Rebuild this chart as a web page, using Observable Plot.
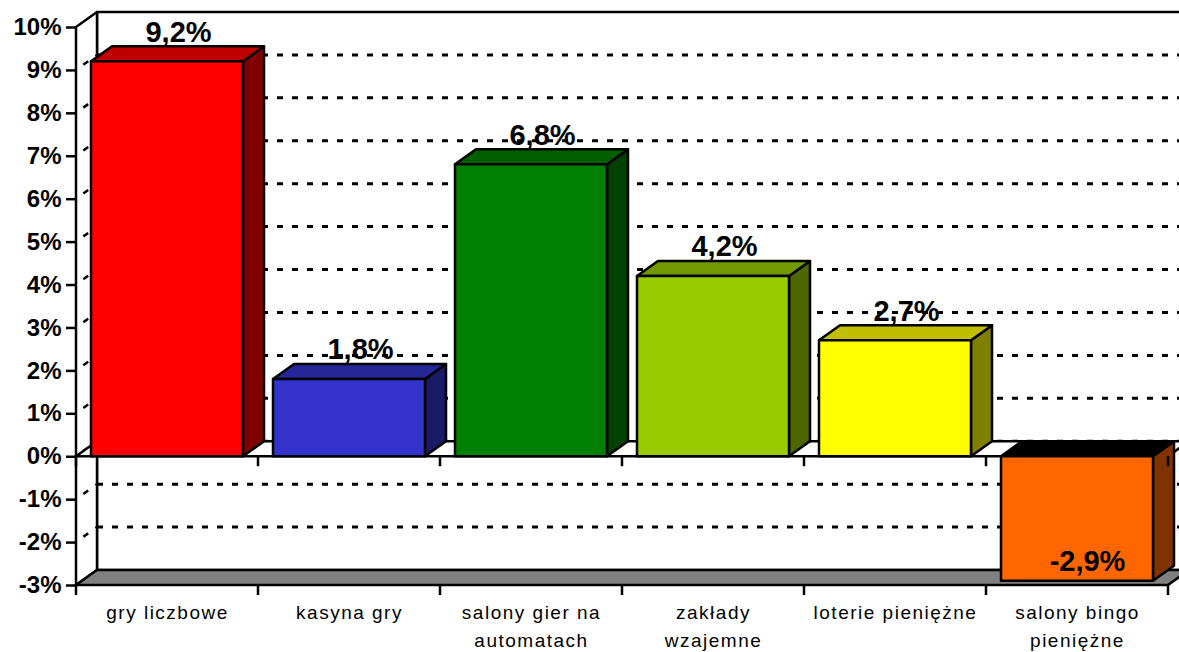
<!DOCTYPE html>
<html>
<head>
<meta charset="utf-8">
<script src="https://cdn.jsdelivr.net/npm/d3@7"></script>
<script src="https://cdn.jsdelivr.net/npm/@observablehq/plot@0.6"></script>
<style>
  html, body { margin: 0; padding: 0; background: #fff; overflow: hidden; }
  svg { overflow: hidden; }
  .catlabel text { letter-spacing: 1.5px; }
</style>
</head>
<body>
<div id="chart"></div>
<script>
// ---- data ----
const categories = ["gry liczbowe", "kasyna gry", "salony gier na automatach", "zakłady wzajemne", "loterie pieniężne", "salony bingo pieniężne"];
const categoryLabels = ["gry liczbowe", "kasyna gry", "salony gier na\nautomatach", "zakłady\nwzajemne", "loterie pieniężne", "salony bingo\npieniężne"];
const values = [9.2, 1.8, 6.8, 4.2, 2.7, -2.9];
const valueLabels = ["9,2%", "1,8%", "6,8%", "4,2%", "2,7%", "-2,9%"];
const frontColors = ["#FF0000", "#3333CC", "#008000", "#99CC00", "#FFFF00", "#FF6600"];
const topColors = ["#BF0000", "#262699", "#006000", "#739900", "#BFBF00", "#000000"];
const sideColors = ["#800000", "#1A1A66", "#004000", "#4D6600", "#808000", "#803300"];
const yTicks = [-3, -2, -1, 0, 1, 2, 3, 4, 5, 6, 7, 8, 9, 10];

const data = categories.map((c, i) => ({
  cat: c, catLabel: categoryLabels[i], value: values[i], label: valueLabels[i],
  front: frontColors[i], top: topColors[i], side: sideColors[i]
}));

// ---- 3D styling ----
const DX = 21, DY = -15, INSET = 15, SW = 2.5;

function bw(scales) {
  const x = scales.x;
  if (x && typeof x.bandwidth === "function") return x.bandwidth();
  return scales.scales.x.bandwidth;
}

function poly(g, pts, fill) {
  g.append("polygon")
    .attr("points", pts.map(p => p.join(",")).join(" "))
    .attr("fill", fill).attr("stroke", "black")
    .attr("stroke-width", SW).attr("stroke-linejoin", "round");
}

// walls, gridlines, floor, zero plane
function walls(index, scales, vals, dims) {
  const y = scales.y;
  const x0 = dims.marginLeft, x1 = dims.width - dims.marginRight;
  const yT = y(yTicks[yTicks.length - 1]), yB = y(yTicks[0]);
  const g = d3.create("svg:g");
  poly(g, [[x0 + DX, yT + DY], [x1 + DX + 40, yT + DY], [x1 + DX + 40, yB + DY], [x0 + DX, yB + DY]], "white");
  poly(g, [[x0, yT], [x0 + DX, yT + DY], [x0 + DX, yB + DY], [x0, yB]], "white");
  for (const t of yTicks.slice(1, -1)) {
    g.append("line").attr("x1", x0 + DX).attr("x2", x1 + DX + 40)
      .attr("y1", y(t) + DY).attr("y2", y(t) + DY)
      .attr("stroke", "black").attr("stroke-width", 3).attr("stroke-dasharray", "6,9");
    g.append("line").attr("x1", x0).attr("x2", x0 + DX)
      .attr("y1", y(t)).attr("y2", y(t) + DY)
      .attr("stroke", "black").attr("stroke-width", 2.5).attr("stroke-dasharray", "6,9").attr("stroke-dashoffset", -9);
  }
  poly(g, [[x0, yB], [x0 + DX, yB + DY], [x1 + DX, yB + DY], [x1, yB]], "#808080");
  const y0 = y(0);
  poly(g, [[x0, y0], [x0 + DX, y0 + DY], [x1 + DX, y0 + DY], [x1, y0]], "white");
  return g.node();
}

// x-axis ticks at band boundaries (bottom and zero level)
function xTicks(index, scales, vals, dims) {
  const y = scales.y, w = bw(scales);
  const g = d3.create("svg:g");
  const xs = categories.map(c => scales.x(c)).concat([scales.x(categories[categories.length - 1]) + w]);
  for (const xv of xs) {
    g.append("line").attr("x1", xv).attr("x2", xv).attr("y1", y(-3)).attr("y2", y(-3) + 10)
      .attr("stroke", "black").attr("stroke-width", SW);
    g.append("line").attr("x1", xv).attr("x2", xv).attr("y1", y(0)).attr("y2", y(0) + 10)
      .attr("stroke", "black").attr("stroke-width", SW);
  }
  return g.node();
}

function bars3d(index, scales, vals, dims) {
  const y = scales.y, w = bw(scales);
  const g = d3.create("svg:g");
  for (const i of index) {
    const d = data[i];
    const xl = scales.x(d.cat) + INSET, xr = scales.x(d.cat) + w - INSET;
    const yt = Math.min(y(d.value), y(0)), yb = Math.max(y(d.value), y(0));
    poly(g, [[xr, yt], [xr + DX, yt + DY], [xr + DX, yb + DY], [xr, yb]], d.side);
    poly(g, [[xl, yt], [xl + DX, yt + DY], [xr + DX, yt + DY], [xr, yt]], d.top);
    g.append("rect").attr("x", xl).attr("y", yt).attr("width", xr - xl).attr("height", yb - yt)
      .attr("fill", d.front).attr("stroke", "black").attr("stroke-width", SW).attr("stroke-linejoin", "round");
  }
  return g.node();
}

const chart = Plot.plot({
  width: 1179,
  height: 652,
  marginLeft: 76,
  marginRight: 11,
  marginTop: 27,
  marginBottom: 67,
  style: { fontFamily: "'Liberation Sans', Arial, sans-serif", background: "white", color: "black" },
  x: { domain: categories, padding: 0, axis: null },
  y: { domain: [-3, 10], axis: null },
  marks: [
    walls,
    Plot.barY(data, { x: "cat", y: "value", render: bars3d }),
    xTicks,
    Plot.axisY({
      ticks: yTicks, tickFormat: d => d + "%", tickSize: 10, tickPadding: 5,
      fontSize: 24, fontWeight: "bold", strokeWidth: SW, label: null
    }),
    Plot.text(data.filter(d => d.value >= 0), {
      x: "cat", y: "value", text: "label", dx: 11, dy: DY - 5,
      lineAnchor: "bottom", fontSize: 29, fontWeight: "bold", fill: "black"
    }),
    Plot.text(data.filter(d => d.value < 0), {
      x: "cat", y: "value", text: "label", dx: 10, dy: -10,
      lineAnchor: "bottom", fontSize: 29, fontWeight: "bold", fill: "black"
    }),
    Plot.text(data, {
      x: "cat", y: -3, text: "catLabel", dy: 14, lineAnchor: "top",
      fontSize: 19, lineHeight: 1.47, fill: "black", className: "catlabel"
    })
  ]
});
document.getElementById("chart").appendChild(chart);
</script>
</body>
</html>
